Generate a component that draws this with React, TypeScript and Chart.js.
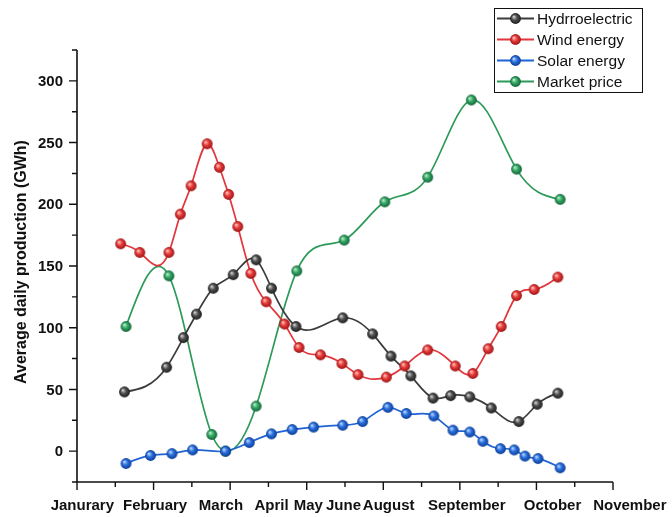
import { useEffect, useRef } from "react";
import { Chart, registerables } from "chart.js";

Chart.register(...registerables);

// Axis ticks and month labels (x positions are in axis units, 0..7)
const monthLabels = ["Janurary", "February", "March", "April", "May", "June", "August", "September", "October", "November"];
const monthLabelPos = [0.07, 1.02, 1.88, 2.54, 3.02, 3.48, 4.07, 5.09, 6.21, 7.22];
const yTickValues = [0, 50, 100, 150, 200, 250, 300];
const yTitle = "Average daily production (GWh)";

// Series values
const hydroX = [0.62, 1.17, 1.39, 1.56, 1.78, 2.04, 2.34, 2.54, 2.86, 3.47, 3.86, 4.10, 4.36, 4.65, 4.88, 5.13, 5.41, 5.77, 6.01, 6.28];
const hydroY = [48, 68, 92, 111, 132, 143, 155, 132, 101, 108, 95, 77, 61, 43, 45, 44, 35, 24, 38, 47];

const windX = [0.57, 0.82, 1.20, 1.35, 1.49, 1.70, 1.86, 1.98, 2.10, 2.27, 2.47, 2.71, 2.90, 3.18, 3.46, 3.67, 4.04, 4.28, 4.58, 4.94, 5.17, 5.37, 5.54, 5.74, 5.97, 6.28];
const windY = [168, 161, 161, 192, 215, 249, 230, 208, 182, 144, 121, 103, 84, 78, 71, 62, 60, 69, 82, 69, 63, 83, 101, 126, 131, 141];

const solarX = [0.64, 0.96, 1.24, 1.51, 1.94, 2.25, 2.54, 2.81, 3.09, 3.47, 3.73, 4.06, 4.30, 4.66, 4.91, 5.13, 5.30, 5.53, 5.71, 5.85, 6.02, 6.31];
const solarY = [-10, -3.5, -2, 1, 0, 7, 14, 17.5, 19.5, 21, 24, 35.5, 30.5, 28.5, 17, 15.5, 8, 2, 1, -4, -6, -13.5];

const marketX = [0.64, 1.20, 1.76, 1.94, 2.34, 2.87, 3.49, 4.02, 4.58, 5.15, 5.74, 6.31];
const marketY = [101, 142, 13.5, 0, 36.5, 146, 171, 202, 222, 284.5, 228.5, 204];

const seriesNames = ["Hydrroelectric", "Wind energy", "Solar energy", "Market price"];
const seriesX = [hydroX, windX, solarX, marketX];
const seriesY = [hydroY, windY, solarY, marketY];

// Line colour and sphere shading (highlight, body, rim) per series
const lineColors = ["#3c3c3c", "#e2353c", "#1f63d4", "#2c9a58"];
const sphereShades = [
  ["#d0d0d0", "#505050", "#1c1c1c"],
  ["#ffc0b8", "#e83c3c", "#9c1414"],
  ["#b8d6ff", "#2a70de", "#0b3c96"],
  ["#b8eec8", "#34a864", "#13633a"],
];

const FONT = '"Liberation Sans", Arial, sans-serif';

function makeSphere(shades: string[]): HTMLCanvasElement {
  const size = 13;
  const c = document.createElement("canvas");
  c.width = size;
  c.height = size;
  const g = c.getContext("2d")!;
  const cx = size / 2;
  const cy = size / 2;
  const r = 5.4;
  const grad = g.createRadialGradient(cx - 1.8, cy - 1.8, 0.4, cx, cy, r);
  grad.addColorStop(0, shades[0]);
  grad.addColorStop(0.45, shades[1]);
  grad.addColorStop(1, shades[2]);
  g.fillStyle = grad;
  g.beginPath();
  g.arc(cx, cy, r, 0, Math.PI * 2);
  g.fill();
  return c;
}

// Natural cubic spline through pixel points, emitted as exact Bezier segments
function drawSpline(ctx: CanvasRenderingContext2D, xs: number[], ys: number[]) {
  const n = xs.length;
  if (n < 2) return;
  const h: number[] = [];
  for (let i = 0; i < n - 1; i++) h.push(xs[i + 1] - xs[i]);
  const M = new Array(n).fill(0);
  if (n > 2) {
    const m = n - 2;
    const a = new Array(m).fill(0);
    const b = new Array(m).fill(0);
    const c = new Array(m).fill(0);
    const d = new Array(m).fill(0);
    for (let k = 0; k < m; k++) {
      const i = k + 1;
      a[k] = h[i - 1];
      b[k] = 2 * (h[i - 1] + h[i]);
      c[k] = h[i];
      d[k] = 6 * ((ys[i + 1] - ys[i]) / h[i] - (ys[i] - ys[i - 1]) / h[i - 1]);
    }
    for (let k = 1; k < m; k++) {
      const w = a[k] / b[k - 1];
      b[k] -= w * c[k - 1];
      d[k] -= w * d[k - 1];
    }
    const sol = new Array(m).fill(0);
    sol[m - 1] = d[m - 1] / b[m - 1];
    for (let k = m - 2; k >= 0; k--) sol[k] = (d[k] - c[k] * sol[k + 1]) / b[k];
    for (let k = 0; k < m; k++) M[k + 1] = sol[k];
  }
  ctx.beginPath();
  ctx.moveTo(xs[0], ys[0]);
  for (let i = 0; i < n - 1; i++) {
    const hi = h[i];
    const slope = (ys[i + 1] - ys[i]) / hi;
    const d0 = slope - (hi * (2 * M[i] + M[i + 1])) / 6;
    const d1 = slope + (hi * (M[i] + 2 * M[i + 1])) / 6;
    ctx.bezierCurveTo(
      xs[i] + hi / 3, ys[i] + (hi / 3) * d0,
      xs[i + 1] - hi / 3, ys[i + 1] - (hi / 3) * d1,
      xs[i + 1], ys[i + 1]
    );
  }
  ctx.stroke();
}

const splineLines = {
  id: "splineLines",
  beforeDatasetsDraw(chart: any) {
    const ctx = chart.ctx as CanvasRenderingContext2D;
    ctx.save();
    ctx.lineJoin = "round";
    ctx.lineCap = "round";
    for (let i = chart.data.datasets.length - 1; i >= 0; i--) {
      const meta = chart.getDatasetMeta(i);
      const px = meta.data.map((p: any) => p.x);
      const py = meta.data.map((p: any) => p.y);
      ctx.strokeStyle = chart.data.datasets[i].borderColor;
      ctx.lineWidth = 1.7;
      drawSpline(ctx, px, py);
    }
    ctx.restore();
  },
};

const axesAndLegend = {
  id: "axesAndLegend",
  afterDraw(chart: any) {
    const ctx = chart.ctx as CanvasRenderingContext2D;
    const xs = chart.scales.x;
    const ys = chart.scales.y;
    const { left, right, top, bottom } = chart.chartArea;
    ctx.save();
    ctx.strokeStyle = "#111";
    ctx.fillStyle = "#111";
    ctx.lineWidth = 1.6;

    // axis lines
    ctx.beginPath();
    ctx.moveTo(left, top);
    ctx.lineTo(left, bottom);
    ctx.moveTo(left, bottom);
    ctx.lineTo(right, bottom);
    ctx.stroke();

    // x ticks: major every 1, minor every 0.5
    ctx.lineWidth = 1.4;
    ctx.beginPath();
    for (let v = xs.min; v <= xs.max + 1e-9; v += 0.5) {
      const x = xs.getPixelForValue(v);
      const major = Math.abs(v - Math.round(v)) < 1e-6;
      ctx.moveTo(x, bottom);
      ctx.lineTo(x, bottom + (major ? 8 : 5));
    }
    // y ticks: major every 50, minor every 25
    for (let v = ys.min; v <= ys.max + 1e-9; v += 25) {
      const y = ys.getPixelForValue(v);
      const major = Math.abs(v % 50) < 1e-6;
      ctx.moveTo(left, y);
      ctx.lineTo(left - (major ? 8 : 5), y);
    }
    ctx.stroke();

    // y tick labels
    ctx.font = `bold 15px ${FONT}`;
    ctx.textAlign = "right";
    ctx.textBaseline = "middle";
    yTickValues.forEach((v) => {
      ctx.fillText(String(v), left - 14, ys.getPixelForValue(v) + 1);
    });

    // month labels
    ctx.font = `bold 15px ${FONT}`;
    ctx.textAlign = "center";
    ctx.textBaseline = "middle";
    monthLabels.forEach((lab, i) => {
      ctx.fillText(lab, xs.getPixelForValue(monthLabelPos[i]), bottom + 24);
    });

    // y axis title
    ctx.save();
    ctx.translate(22, 262);
    ctx.rotate(-Math.PI / 2);
    ctx.font = `bold 16px ${FONT}`;
    ctx.textAlign = "center";
    ctx.textBaseline = "middle";
    ctx.fillText(yTitle, 0, 0);
    ctx.restore();

    // legend box
    const lx = 494, ly = 8, lw = 148, lh = 84;
    ctx.fillStyle = "#fff";
    ctx.fillRect(lx, ly, lw, lh);
    ctx.strokeStyle = "#111";
    ctx.lineWidth = 1;
    ctx.strokeRect(lx + 0.5, ly + 0.5, lw, lh);
    ctx.font = `15.5px ${FONT}`;
    ctx.textAlign = "left";
    ctx.textBaseline = "middle";
    seriesNames.forEach((name, i) => {
      const y = ly + 10.5 + i * 21;
      ctx.strokeStyle = lineColors[i];
      ctx.lineWidth = 1.8;
      ctx.beginPath();
      ctx.moveTo(lx + 3, y);
      ctx.lineTo(lx + 40, y);
      ctx.stroke();
      const img = chart.data.datasets[i].pointStyle as HTMLCanvasElement;
      ctx.drawImage(img, lx + 21.5 - img.width / 2, y - img.height / 2);
      ctx.fillStyle = "#111";
      ctx.fillText(name, lx + 43, y + 1);
    });
    ctx.restore();
  },
};

export default function App() {
  const canvasRef = useRef<HTMLCanvasElement | null>(null);

  useEffect(() => {
    document.body.style.margin = "0";
    const canvas = canvasRef.current;
    if (!canvas) return;
    const datasets = seriesNames.map((name, i) => ({
      label: name,
      data: seriesX[i].map((x, k) => ({ x, y: seriesY[i][k] })),
      borderColor: lineColors[i],
      backgroundColor: lineColors[i],
      pointStyle: makeSphere(sphereShades[i]) as any,
      pointRadius: 6,
      showLine: false,
      order: i === 3 ? 1 : 0,
    }));
    const chart = new Chart(canvas, {
      type: "scatter",
      data: { datasets },
      options: {
        responsive: false,
        animation: false,
        events: [],
        layout: { padding: { left: 77, right: 59, top: 50, bottom: 35 } },
        scales: {
          x: { type: "linear", min: 0, max: 7, display: false },
          y: { type: "linear", min: -25, max: 325, display: false },
        },
        plugins: {
          legend: { display: false },
          tooltip: { enabled: false },
        },
      },
      plugins: [splineLines, axesAndLegend],
    });
    return () => chart.destroy();
  }, []);

  return (
    <div style={{ position: "absolute", left: 0, top: 0, width: 672, height: 517, background: "#fff" }}>
      <canvas ref={canvasRef} width={672} height={517} style={{ display: "block" }} />
    </div>
  );
}
